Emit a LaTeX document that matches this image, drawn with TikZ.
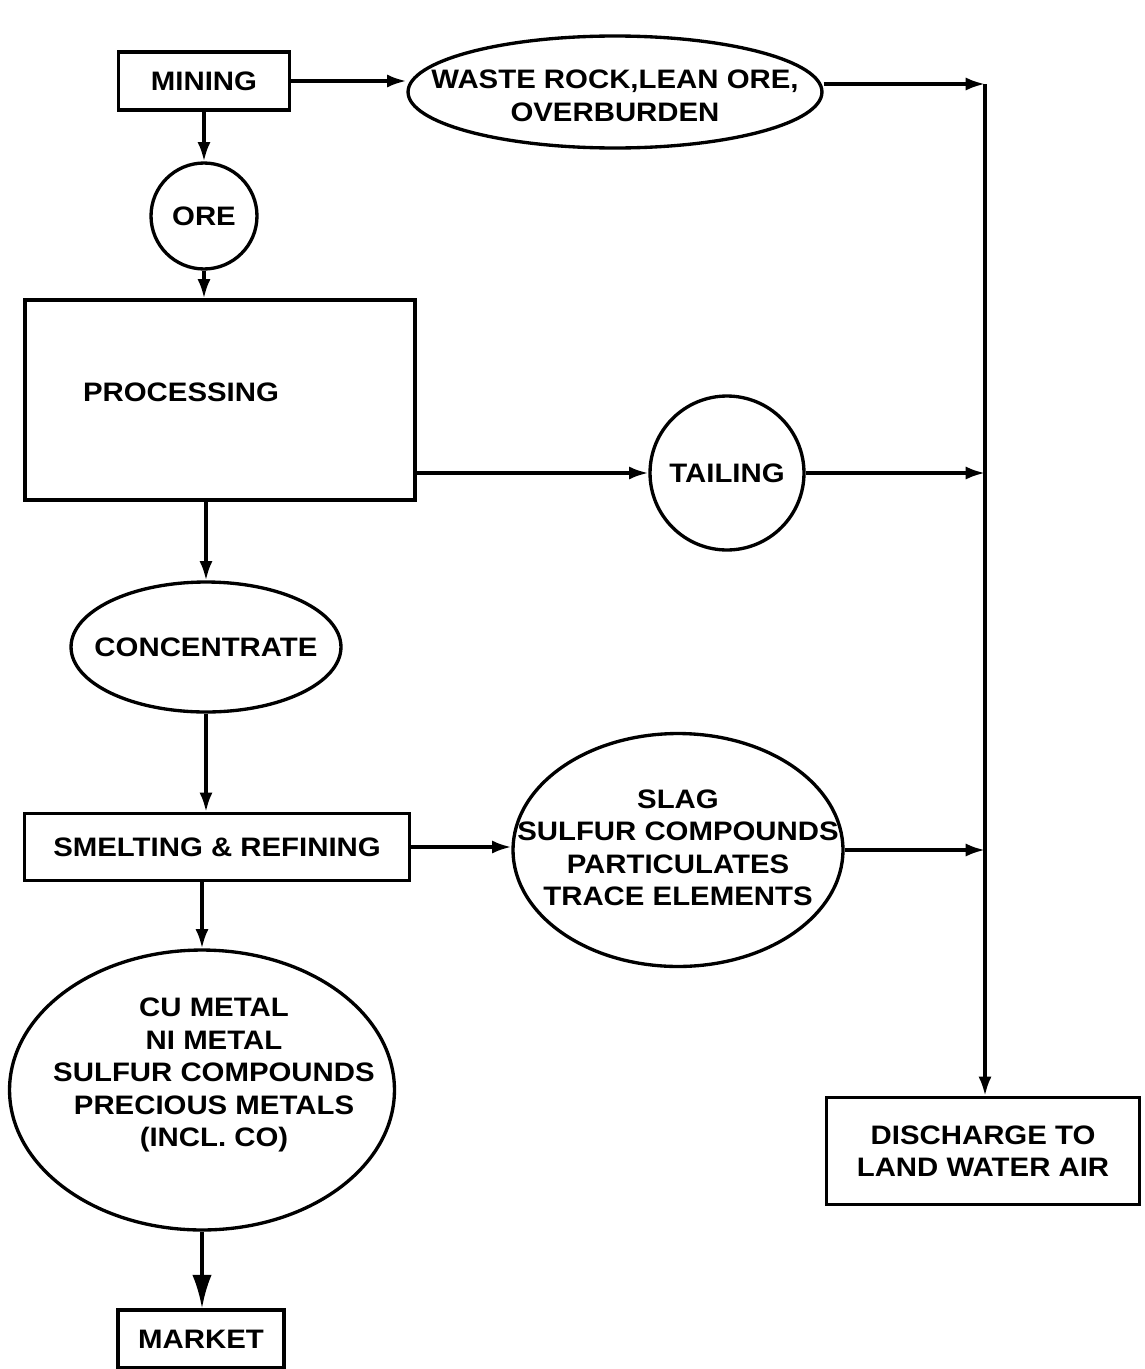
\documentclass[tikz,border=0pt]{standalone}
\usepackage{fontspec}
\setmainfont{Liberation Sans}[FakeStretch=1.1]
\usetikzlibrary{arrows.meta,shapes.geometric}

\begin{document}
\begin{tikzpicture}[x=0.02cm, y=-0.02cm, line width=1.9pt,
  >={Latex[length=11pt,width=7.5pt]},
  every node/.style={font=\fontsize{15.2}{18.5}\selectfont\bfseries, align=center, inner sep=0pt},
  box/.style={rectangle, draw},
  blob/.style={ellipse, draw},
  disc/.style={circle, draw}]
  \useasboundingbox (0,0) rectangle (1144,1369);
  % Nodes
  \node[box, minimum width=3.42cm, minimum height=1.16cm] (mining) at (204,81) {MINING};
  \node[blob, minimum width=8.28cm, minimum height=2.24cm] (waste) at (615,92) {};
  \node (wastetext) at (615,96) {WASTE ROCK,LEAN ORE,\\OVERBURDEN};
  \node[disc, minimum size=2.12cm] (ore) at (204,216) {ORE};
  \node[box, minimum width=7.8cm, minimum height=4cm] (processing) at (220,400) {};
  \node (proclabel) at (181,392) {PROCESSING};
  \node[disc, minimum size=3.08cm] (tailing) at (727,473) {TAILING};
  \node[blob, minimum width=5.4cm, minimum height=2.6cm] (concentrate) at (206,647) {};
  \node (conctext) at (206,647) {CONCENTRATE};
  \node[box, minimum width=7.7cm, minimum height=1.34cm] (smelting) at (217,847) {SMELTING \& REFINING};
  \node[blob, minimum width=6.6cm, minimum height=4.66cm] (slag) at (678,850) {};
  \node (slagtext) at (678,848) {SLAG\\SULFUR COMPOUNDS\\PARTICULATES\\TRACE ELEMENTS};
  \node[blob, minimum width=7.7cm, minimum height=5.6cm] (metals) at (202,1090) {};
  \node (metalstext) at (214,1075) {CU METAL\\NI METAL\\SULFUR COMPOUNDS\\PRECIOUS METALS\\(INCL. CO)};
  \node[box, minimum width=3.32cm, minimum height=1.16cm] (market) at (201,1339) {MARKET};
  \node[box, minimum width=6.26cm, minimum height=2.14cm] (discharge) at (983,1151) {DISCHARGE TO\\LAND WATER AIR};
  % junctions on the discharge line
  \coordinate (jtop) at (985,84);
  \coordinate (jmid) at (985,475);
  \coordinate (jlow) at (985,848);

  % Edges
  \draw[->] (mining.east) -- (mining.east -| waste.west);
  \draw[->] (waste.east |- jtop) -- (jtop);
  \draw[->] (jtop) -- (jtop |- discharge.north);
  \draw[->] (mining.south) -- (ore.north);
  \draw[->] (ore.south) -- (ore.south |- processing.north);
  \draw[->] (tailing.west -| processing.east) -- (tailing.west);
  \draw[->] (tailing.east) -- (tailing.east -| jmid);
  \draw[->] (processing.south -| concentrate) -- (concentrate.north);
  \draw[->] (concentrate.south) -- (concentrate.south |- smelting.north);
  \draw[->] (smelting.east) -- (smelting.east -| slag.west);
  \draw[->] (slag.east) -- (slag.east -| jlow);
  \draw[->] (smelting.south -| metals) -- (metals.north);
  \draw[-{Latex[length=19pt,width=11pt]}] (metals.south) -- (metals.south |- market.north);
\end{tikzpicture}
\end{document}
